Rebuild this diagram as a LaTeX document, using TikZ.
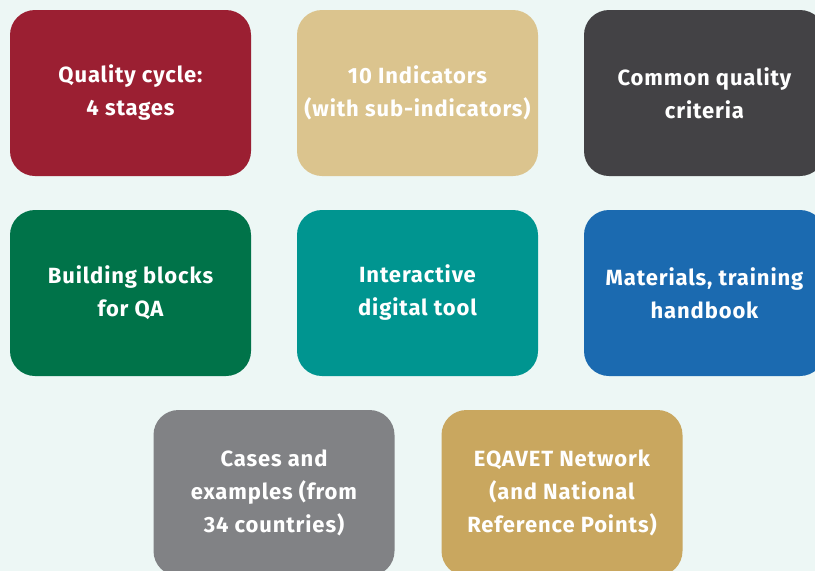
\documentclass[tikz,border=0pt]{standalone}
\usepackage{fontspec}
\setmainfont{Fira Sans}[LetterSpace=4]
\definecolor{bgmint}{HTML}{EDF7F5}
\definecolor{qred}{HTML}{9B1F32}
\definecolor{qbeige}{HTML}{DBC48E}
\definecolor{qdark}{HTML}{434245}
\definecolor{qgreen}{HTML}{007349}
\definecolor{qteal}{HTML}{009590}
\definecolor{qblue}{HTML}{1B6AB0}
\definecolor{qgrey}{HTML}{818285}
\definecolor{qgold}{HTML}{C9A75F}

\begin{document}
\begin{tikzpicture}[x=1pt,y=-1pt,align=center]
\tikzstyle{obj} = [font=\fontsize{22}{33}\selectfont\bfseries,text=white,rectangle,align=center, minimum width=241pt, minimum height=166pt,rounded corners=25pt,inner sep=0pt]
\useasboundingbox[fill=bgmint] (0,0) rectangle (815,571);
\node[obj,fill=qred] (qc) at (130.5,93) {Quality cycle:\\4 stages};
\node[obj,fill=qbeige] (ind) at (417.5,93) {10 Indicators\\(with sub-indicators)};
\node[obj,fill=qdark] (crit) at (704.5,93) {Common quality\\criteria};
\node[obj,fill=qgreen] (blocks) at (130.5,293) {Building blocks\\for QA};
\node[obj,fill=qteal] (tool) at (417.5,293) {Interactive\\digital tool};
\node[obj,fill=qblue] (mat) at (704.5,293) {Materials, training\\handbook};
\node[obj,fill=qgrey] (cases) at (274,493) {Cases and\\examples (from\\34 countries)};
\node[obj,fill=qgold] (net) at (562,493) {EQAVET Network\\(and National\\Reference Points)};
\end{tikzpicture}
\end{document}
